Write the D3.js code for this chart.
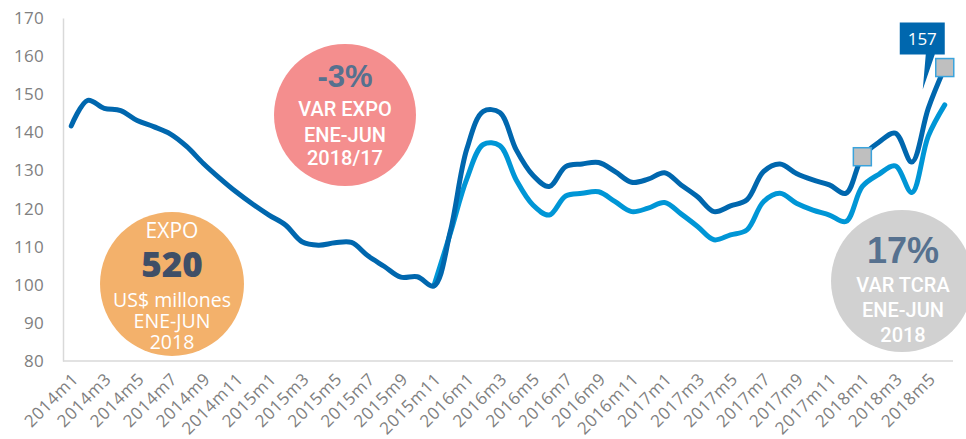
<!DOCTYPE html>
<html><head><meta charset="utf-8">
<script src="https://cdn.jsdelivr.net/npm/d3@7"></script>
<style>
html,body{margin:0;padding:0;background:#fff;}
svg{display:block;}
</style></head>
<body><svg id="chart" width="966" height="439"></svg>
<script>
const months = [
 "2014m1","2014m2","2014m3","2014m4","2014m5","2014m6","2014m7","2014m8","2014m9","2014m10","2014m11","2014m12",
 "2015m1","2015m2","2015m3","2015m4","2015m5","2015m6","2015m7","2015m8","2015m9","2015m10","2015m11","2015m12",
 "2016m1","2016m2","2016m3","2016m4","2016m5","2016m6","2016m7","2016m8","2016m9","2016m10","2016m11","2016m12",
 "2017m1","2017m2","2017m3","2017m4","2017m5","2017m6","2017m7","2017m8","2017m9","2017m10","2017m11","2017m12",
 "2018m1","2018m2","2018m3","2018m4","2018m5","2018m6"];
const seriesDark = [
 141.7,148.4,146.3,145.7,143.1,141.5,139.6,136.3,131.9,128.0,124.4,121.2,
 118.3,115.7,111.3,110.4,111.0,111.1,107.6,104.8,102.0,102.1,99.7,114.0,
 135.6,145.5,145.2,135.4,128.8,125.8,131.0,131.7,132.1,129.7,126.9,127.7,
 129.4,126.2,123.1,119.2,120.7,122.3,129.7,131.7,129.2,127.5,126.2,124.0,
 133.6,137.4,139.8,132.2,146.3,157.0];
const seriesLight = [
 null,null,null,null,null,null,null,null,null,null,null,null,
 null,null,null,null,null,null,null,null,null,null,99.7,113.5,
 127.8,136.8,136.5,127.5,121.0,118.3,123.3,124.0,124.4,121.8,119.2,120.1,
 121.6,118.6,115.3,111.8,113.1,114.4,121.8,124.0,121.4,119.6,118.3,116.6,
 125.8,129.0,131.2,124.2,139.0,147.2];
const yTicks = [80,90,100,110,120,130,140,150,160,170];
const markerMonths = ["2018m1","2018m6"];
const calloutMonth = "2018m6";
const calloutText = "157";

const svg = d3.select("#chart");
const mLeft = 63, mRight = 953, mTop = 18, mBottom = 361;
const x = d3.scaleBand().domain(months).range([mLeft, mRight]);
const cx = m => x(m) + x.bandwidth()/2;
const y = d3.scaleLinear().domain([80,170]).range([mBottom, mTop]);

// circles (behind lines)
const g = svg.append("g");
function bubble(cxp, cyp, r, fill){
  g.append("circle").attr("cx",cxp).attr("cy",cyp).attr("r",r).attr("fill",fill);
}
bubble(345,115,71,"#F48E8E");
bubble(172,284,72,"#F3B16B");
bubble(902,281,71,"#D1D1D1");

// axes
const yAxis = svg.append("g").attr("transform",`translate(${mLeft},0)`)
  .call(d3.axisLeft(y).tickValues(yTicks).tickSize(0).tickPadding(19));
yAxis.select(".domain").attr("stroke","#D9D9D9").attr("stroke-width",1.5);
yAxis.selectAll("text").attr("fill","#808080").style("font-family","'Open Sans',sans-serif").style("font-size","17px").style("letter-spacing","0.3px");

const xAxis = svg.append("g").attr("transform",`translate(0,${mBottom})`)
  .call(d3.axisBottom(x).tickValues(months.filter((d,i)=>i%2===0)).tickSize(0));
xAxis.select(".domain").attr("stroke","#D9D9D9").attr("stroke-width",1.5).attr("d",`M${mLeft},0H${mRight}`);
xAxis.selectAll("text")
  .attr("fill","#808080").style("font-family","'Open Sans',sans-serif").style("font-size","17px").style("letter-spacing","0.6px")
  .attr("text-anchor","end").attr("dy","0.35em").attr("y",0)
  .attr("transform","translate(4,15) rotate(-45)");

// lines
const line = d3.line().defined(d=>d[1]!=null).x(d=>cx(d[0])).y(d=>y(d[1])).curve(d3.curveCatmullRom.alpha(0.5));
svg.append("path").datum(months.map((m,i)=>[m,seriesLight[i]]))
  .attr("d",line).attr("fill","none").attr("stroke","#0096D6").attr("stroke-width",5).attr("stroke-linejoin","round").attr("stroke-linecap","round");
svg.append("path").datum(months.map((m,i)=>[m,seriesDark[i]]))
  .attr("d",line).attr("fill","none").attr("stroke","#0067AE").attr("stroke-width",5).attr("stroke-linejoin","round").attr("stroke-linecap","round");

// markers
markerMonths.forEach(m=>{
  const v = seriesDark[months.indexOf(m)];
  svg.append("rect").attr("x",cx(m)-9).attr("y",y(v)-9).attr("width",18).attr("height",18)
    .attr("fill","#BFBFBF").attr("stroke","#3AA3DC").attr("stroke-width",1.5);
});

// callout
{
  const px = cx(calloutMonth), pv = seriesDark[months.indexOf(calloutMonth)];
  const py = y(pv);
  const bx0 = px-45, bx1 = px, by0 = py-45, by1 = py-13;
  svg.append("path").attr("fill","#0067AE")
    .attr("d",`M${bx0},${by0}H${bx1}V${by1}H${px-10}L${px-22},${py+22}L${px-19},${by1}H${bx0}Z`);
  svg.append("text").attr("x",(bx0+bx1)/2).attr("y",(by0+by1)/2).attr("dy","0.36em")
    .attr("text-anchor","middle").attr("fill","#fff")
    .style("font-family","'Open Sans',sans-serif").style("font-size","17px").text(calloutText);
}

// multi-line blocks as one text element each
function block(xp, lines, family){
  const t = svg.append("text").attr("text-anchor","middle").style("font-family",family);
  lines.forEach(l=>{
    t.append("tspan").attr("x",xp).attr("y",l.y).attr("dy","0.36em")
      .attr("fill",l.fill||"#fff").style("font-size",l.size+"px").style("font-weight",l.w||400).text(l.s);
  });
}
const fg = "'Liberation Sans',Arial,sans-serif";
const fr = "Roboto,'Liberation Sans',sans-serif";
const fo = "'Open Sans',sans-serif";
// pink
block(345,[{y:76,s:"-3%",size:31,w:"bold",fill:"#56718F"}],fg);
block(345,[{y:109,s:"VAR EXPO",size:20,w:500},{y:135,s:"ENE-JUN",size:20,w:500},{y:158,s:"2018/17",size:20,w:500}],fr);
// orange
block(172,[{y:230,s:"EXPO",size:21},{y:264,s:"520",size:35,w:800,fill:"#3F4F67"},
  {y:300,s:"US$ millones",size:19.5},{y:321,s:"ENE-JUN",size:19.5},{y:342,s:"2018",size:19.5}],fo);
// gray
block(903,[{y:250,s:"17%",size:36,w:"bold",fill:"#56718F"}],fg);
block(903,[{y:285,s:"VAR TCRA",size:20,w:500},{y:310,s:"ENE-JUN",size:20,w:500},{y:335,s:"2018",size:20,w:500}],fr);
</script>
</body></html>
